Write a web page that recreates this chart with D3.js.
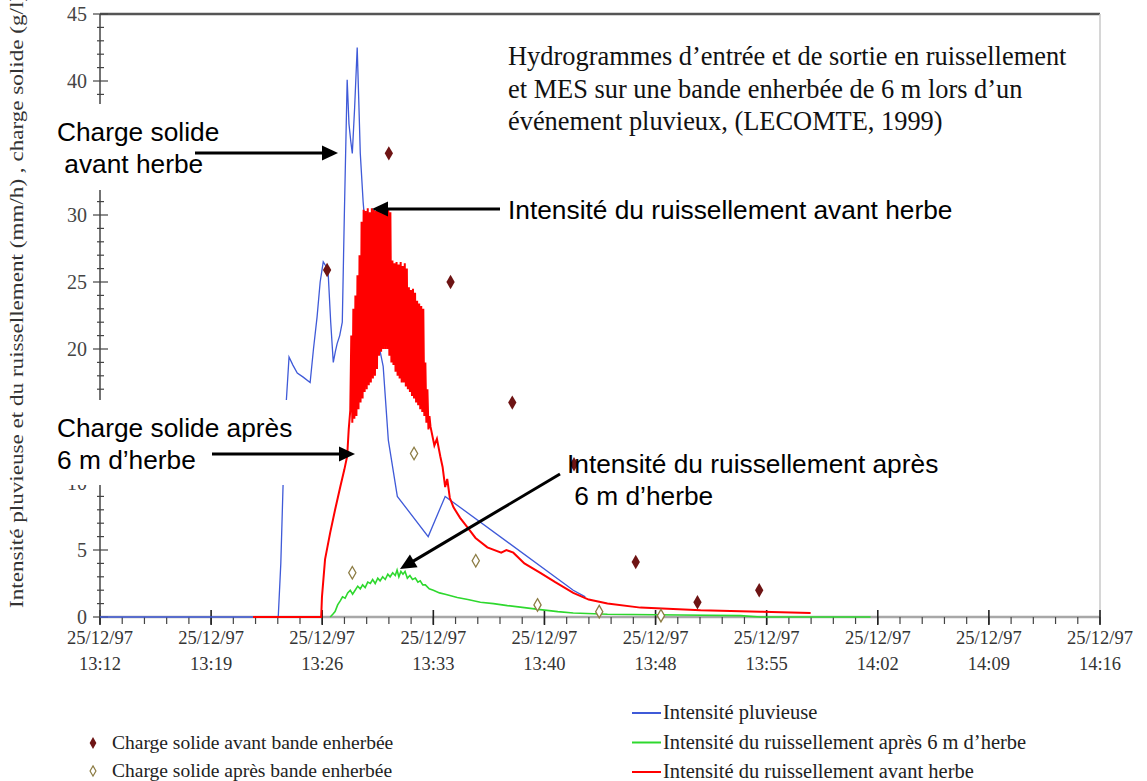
<!DOCTYPE html>
<html>
<head>
<meta charset="utf-8">
<script src="https://cdn.jsdelivr.net/npm/d3@7"></script>
<style>
body { margin: 0; background: #fff; }
svg { display: block; }
.serif { font-family: "Liberation Serif", "Times New Roman", serif; }
.sans { font-family: "Liberation Sans", Arial, sans-serif; }
</style>
</head>
<body>
<svg id="chart" width="1147" height="781"></svg>
<script>
// all times are seconds after 25/12/97 13:12:00

// Intensité pluvieuse (mm/h)
var rainfall = [
  [0,0],[693,0],[703,4],[712,10],[724,16],[735,19.4],[750,18.8],[767,18.2],[790,17.9],[817,17.5],
  [830,20],[844,22.4],[856,25],[868,26.5],[878,26.2],[887,25.7],[897,22],[907,19],[915,19.8],[922,20.4],
  [932,21],[942,22],[950,30],[961,40.1],[968,36.8],[975,35.5],[981,34.6],[990,38],[1000,42.5],[1006,38.6],
  [1012,34.6],[1023,31],[1039,27.2],[1051,24.5],[1063,22.5],[1082,20.5],[1101,18.7],[1121,13.2],[1156,9],
  [1276,6],[1342,9],[1840,2],[1887,1.5]
];

// Intensité du ruissellement avant herbe (mm/h)
var runoffBefore = [
  [595,0],[860,0],[863,1.5],[875,4.3],[895,6.3],[914,8],[934,9.7],[950,11],[961,12],[967,14],[973,15.4],
  [977,21],[981,14.5],[985,23],[989,14.8],[993,24],[997,15],[1001,25.5],[1005,15.5],[1009,27],[1013,16],
  [1017,29.5],[1021,16.3],[1025,30.4],[1029,16.8],[1033,30.3],[1037,17],[1041,30.5],[1045,17.3],[1049,30.2],
  [1053,17.5],[1057,30.5],[1061,17.8],[1065,30.4],[1069,18],[1073,30.3],[1077,18.5],[1081,30.5],[1085,19.5],
  [1089,30.4],[1093,19.8],[1097,30.2],[1101,20],[1105,30.5],[1109,20],[1113,30.3],[1117,20],[1121,30.4],
  [1125,19.5],[1129,30.2],[1133,19],[1137,26.6],[1141,18.8],[1145,26.4],[1149,18.3],[1153,26.5],[1157,18],
  [1161,26.3],[1165,17.8],[1169,26.5],[1173,17.5],[1177,26.2],[1181,17.5],[1185,26.4],[1189,17.2],[1193,26],
  [1197,17],[1201,24.6],[1205,16.8],[1209,24.4],[1213,16.5],[1217,24.5],[1221,16.3],[1225,24.2],[1229,16],
  [1233,23.6],[1237,15.8],[1241,23.4],[1245,15.5],[1249,23.2],[1253,15.3],[1257,23],[1261,15],[1265,19],
  [1269,14.5],[1273,17],[1277,14],[1281,15],[1285,14.2],
  [1300,12.8],[1310,13.3],[1323,12],[1332,11.2],[1342,9.7],[1350,10.3],[1360,8.9],[1374,8.2],[1400,7.4],
  [1428,6.7],[1460,5.9],[1506,5.2],[1560,4.8],[1580,5.0],[1607,4.8],[1650,4.0],[1712,3.3],[1770,2.6],
  [1840,1.8],[1900,1.3],[1973,1.0],[2101,0.7],[2335,0.5],[2568,0.4],[2763,0.3]
];

// Intensité du ruissellement après 6 m d'herbe (mm/h)
var runoffAfter = [
  [895,0],[905,0.2],[914,0.4],[924,0.9],[934,1.2],[943,1.5],[953,1.4],[963,1.8],[973,2.0],[982,1.7],
  [992,2.0],[1002,2.3],[1012,2.1],[1021,2.4],[1031,2.2],[1041,2.6],[1051,2.5],[1060,2.8],[1070,2.5],
  [1080,2.9],[1089,2.7],[1099,3.0],[1109,2.8],[1119,3.2],[1128,3.0],[1138,3.3],[1148,3.1],[1155,3.5],
  [1162,3.0],[1170,3.4],[1178,3.2],[1186,3.4],[1195,2.9],[1205,3.1],[1215,2.8],[1226,2.9],[1236,2.6],
  [1245,2.7],[1255,2.4],[1265,2.4],[1280,2.1],[1296,2.0],[1320,1.8],[1342,1.7],[1389,1.45],[1430,1.3],
  [1479,1.1],[1530,1.0],[1584,0.85],[1650,0.7],[1712,0.55],[1780,0.4],[1840,0.3],[1973,0.2],[2257,0.15],
  [2490,0.1],[2568,0],[2996,0]
];

// Charge solide (g/l)
var solidBefore = [[883,25.9],[1123,34.6],[1363,25.0],[1603,16.0],[1843,11.4],[2083,4.1],[2323,1.1],[2563,2.0]];
var solidAfter = [[981,3.3],[1221,12.2],[1461,4.2],[1701,0.9],[1941,0.4],[2181,0.1]];

// axis ticks
var xMajorSec = [0,432,864,1296,1728,2160,2592,3024,3456,3888];
var xMinorStep = 86.4;
var yMajor = [0,5,10,15,20,25,30,35,40,45];

var titleLines = [
  "Hydrogrammes d\u2019entrée et de sortie en ruissellement",
  "et MES sur une bande enherbée de 6 m lors d\u2019un",
  "événement pluvieux, (LECOMTE, 1999)"
];

var svg = d3.select("#chart");
var t0 = new Date(1997, 11, 25, 13, 12, 0);
function T(s) { return new Date(t0.getTime() + s * 1000); }

var x = d3.scaleTime().domain([T(0), T(3888)]).range([100, 1100]);
var y = d3.scaleLinear().domain([0, 45]).range([617, 14]);

// white boxes behind the annotations (they hide part of the y axis)
var boxes = [
  {x: 40, y: 104, w: 215, h: 86},
  {x: 40, y: 400, w: 258, h: 85}
];
function hidden(yy) {
  return boxes.some(function(b) { return yy - 14 > b.y && yy < b.y + b.h; });
}

// frame
svg.append("line").attr("x1", 100).attr("x2", 1100).attr("y1", y(45)).attr("y2", y(45))
  .attr("stroke", "#555").attr("stroke-width", 2.5);
svg.append("line").attr("x1", 1100).attr("x2", 1100).attr("y1", y(45)).attr("y2", y(0))
  .attr("stroke", "#c8c8c8").attr("stroke-width", 1.5);

// x axis
svg.append("line").attr("x1", 100).attr("x2", 1100).attr("y1", y(0)).attr("y2", y(0))
  .attr("stroke", "#a8a8a8").attr("stroke-width", 2.5);
var minors = d3.range(0, 3888.1, xMinorStep);
svg.append("g").selectAll("line").data(minors).enter().append("line")
  .attr("x1", function(d) { return x(T(d)); }).attr("x2", function(d) { return x(T(d)); })
  .attr("y1", y(0)).attr("y2", y(0) + 7)
  .attr("stroke", "#444").attr("stroke-width", 1.2);
svg.append("g").selectAll("line").data(xMajorSec).enter().append("line")
  .attr("x1", function(d) { return x(T(d)); }).attr("x2", function(d) { return x(T(d)); })
  .attr("y1", y(0) - 7).attr("y2", y(0) + 8)
  .attr("stroke", "#222").attr("stroke-width", 1.6);

var fDate = d3.timeFormat("%d/%m/%y"), fTime = d3.timeFormat("%H:%M");
var xl = svg.append("g").attr("class", "serif").attr("fill", "#333").attr("font-size", 18.5)
  .selectAll("text").data(xMajorSec).enter().append("text")
  .attr("text-anchor", "middle");
xl.append("tspan").attr("x", function(d) { return x(T(d)); }).attr("y", 644)
  .text(function(d) { return fDate(T(d)); });
xl.append("tspan").attr("x", function(d) { return x(T(d)); }).attr("y", 670)
  .text(function(d) { return fTime(T(d)); });

// y axis
svg.append("line").attr("x1", 100).attr("x2", 100).attr("y1", y(45)).attr("y2", y(0))
  .attr("stroke", "#444").attr("stroke-width", 1.5);
svg.append("g").selectAll("line").data(d3.range(0, 46)).enter().append("line")
  .attr("x1", function(d) { return d % 5 ? 97 : 93; })
  .attr("x2", function(d) { return d % 5 ? 104 : 108; })
  .attr("y1", function(d) { return y(d); }).attr("y2", function(d) { return y(d); })
  .attr("stroke", "#444").attr("stroke-width", 1.2);
svg.append("g").attr("class", "serif").attr("fill", "#444").attr("font-size", 20)
  .selectAll("text").data(yMajor.filter(function(d) { return !hidden(y(d) + 7); })).enter().append("text")
  .attr("x", 87).attr("y", function(d) { return y(d) + 7; })
  .attr("text-anchor", "end").text(function(d) { return d; });

svg.append("text").attr("class", "serif").attr("fill", "#333").attr("font-size", 19)
  .attr("transform", "translate(23,608) rotate(-90)")
  .attr("textLength", 614).attr("lengthAdjust", "spacingAndGlyphs")
  .text("Intensité pluvieuse et du ruissellement (mm/h) , charge solide (g/l)");

// series
var line = d3.line().x(function(d) { return x(T(d[0])); }).y(function(d) { return y(d[1]); });
svg.append("path").datum(rainfall).attr("d", line)
  .attr("fill", "none").attr("stroke", "#3f5ad8").attr("stroke-width", 1.3);
svg.append("path").datum(runoffBefore).attr("d", line)
  .attr("fill", "none").attr("stroke", "#ff0000").attr("stroke-width", 2);
svg.append("path").datum(runoffAfter).attr("d", line)
  .attr("fill", "none").attr("stroke", "#2ed82e").attr("stroke-width", 1.6);

var diamond = d3.symbol().type(d3.symbolDiamond);
svg.append("g").selectAll("path").data(solidBefore).enter().append("path")
  .attr("d", diamond.size(60)())
  .attr("transform", function(d) { return "translate(" + x(T(d[0])) + "," + y(d[1]) + ")"; })
  .attr("fill", "#6e1414");
svg.append("g").selectAll("path").data(solidAfter).enter().append("path")
  .attr("d", diamond.size(45)())
  .attr("transform", function(d) { return "translate(" + x(T(d[0])) + "," + y(d[1]) + ")"; })
  .attr("fill", "#fff").attr("stroke", "#8c7c44").attr("stroke-width", 1.3);

// title
svg.append("g").attr("class", "serif").attr("font-size", 26.4).attr("fill", "#111")
  .selectAll("text").data(titleLines).enter().append("text")
  .attr("x", 508).attr("y", function(d, i) { return 65 + i * 32.5; })
  .text(function(d) { return d; });

// annotations
boxes.forEach(function(b) {
  svg.append("rect").attr("x", b.x).attr("y", b.y).attr("width", b.w).attr("height", b.h).attr("fill", "#fff");
});

var notes = [
  {x: 57, y: 141, t: "Charge solide"},
  {x: 57, y: 173, t: " avant herbe"},
  {x: 508, y: 219, t: "Intensité du ruissellement avant herbe"},
  {x: 57, y: 437, t: "Charge solide après"},
  {x: 57, y: 469, t: "6 m d\u2019herbe"},
  {x: 567, y: 473, t: "Intensité du ruissellement après"},
  {x: 567, y: 505, t: " 6 m d\u2019herbe"}
];
svg.append("g").attr("class", "sans").attr("font-size", 26.3).attr("fill", "#000")
  .selectAll("text").data(notes).enter().append("text")
  .attr("x", function(d) { return d.x; }).attr("y", function(d) { return d.y; })
  .style("white-space", "pre")
  .text(function(d) { return d.t; });

var arrows = [
  [195, 153, 338, 153],
  [500, 209, 372, 209],
  [212, 454, 355, 454],
  [560, 474, 400, 569]
];
arrows.forEach(function(a) {
  var dx = a[2] - a[0], dy = a[3] - a[1], L = Math.sqrt(dx * dx + dy * dy);
  var ux = dx / L, uy = dy / L, hl = 16, hw = 7.5;
  var bx = a[2] - ux * hl, by = a[3] - uy * hl;
  svg.append("line").attr("x1", a[0]).attr("y1", a[1]).attr("x2", bx + ux * 2).attr("y2", by + uy * 2)
    .attr("stroke", "#000").attr("stroke-width", 3);
  svg.append("path")
    .attr("d", "M" + a[2] + "," + a[3] + "L" + (bx - uy * hw) + "," + (by + ux * hw) +
      "L" + (bx + uy * hw) + "," + (by - ux * hw) + "Z")
    .attr("fill", "#000");
});

// legend
var legLeft = [
  {label: "Charge solide avant bande enherbée", filled: true},
  {label: "Charge solide après bande enherbée", filled: false}
];
var legRight = [
  {label: "Intensité pluvieuse", color: "#3f5ad8"},
  {label: "Intensité du ruissellement après 6 m d\u2019herbe", color: "#2ed82e"},
  {label: "Intensité du ruissellement avant herbe", color: "#ff0000"}
];
var lg = svg.append("g").attr("class", "serif").attr("fill", "#222");
legLeft.forEach(function(d, i) {
  var yy = 743 + i * 28;
  lg.append("path").attr("d", diamond.size(d.filled ? 40 : 30)())
    .attr("transform", "translate(93," + yy + ")")
    .attr("fill", d.filled ? "#6e1414" : "#fff")
    .attr("stroke", d.filled ? "none" : "#8c7c44").attr("stroke-width", 1.2);
  lg.append("text").attr("x", 112).attr("y", yy + 6).attr("font-size", 19.5).text(d.label);
});
legRight.forEach(function(d, i) {
  var yy = 713 + i * 29.5;
  lg.append("line").attr("x1", 632).attr("x2", 661).attr("y1", yy).attr("y2", yy)
    .attr("stroke", d.color).attr("stroke-width", 2);
  lg.append("text").attr("x", 663).attr("y", yy + 6).attr("font-size", 20.5).text(d.label);
});
</script>
</body>
</html>
